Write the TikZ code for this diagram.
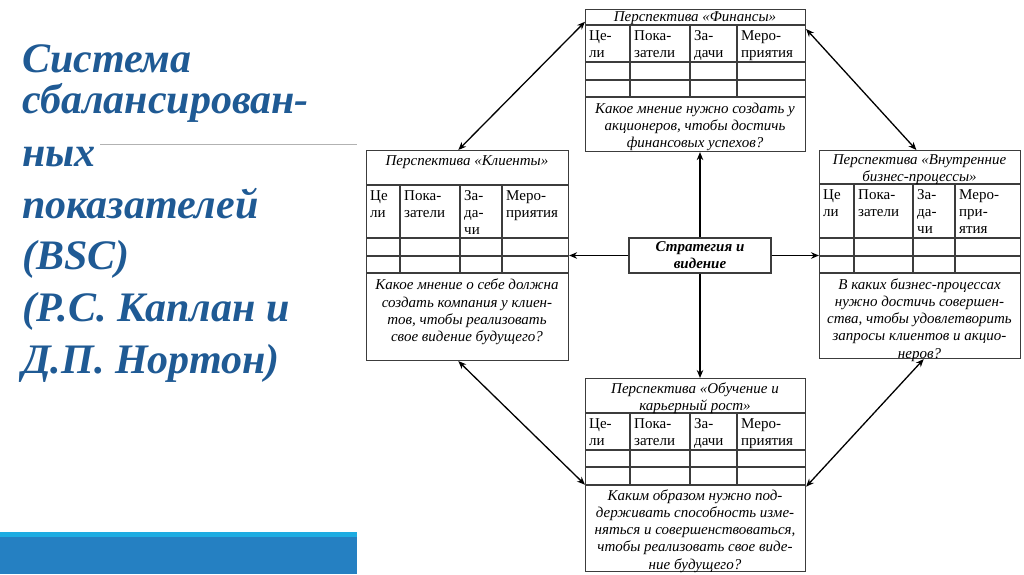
\documentclass[tikz,border=0pt]{standalone}
\usepackage{fontspec}
\setmainfont{Liberation Serif}
\usetikzlibrary{arrows.meta, positioning}
\definecolor{titleblue}{RGB}{31,90,148}
\definecolor{barlight}{RGB}{29,172,226}
\definecolor{bardark}{RGB}{37,128,194}
\definecolor{gridgray}{RGB}{60,60,60}
\tikzset{
  pbox/.style={draw=gridgray, line width=1.1pt, anchor=north west, inner sep=0pt},
  gridline/.style={draw=gridgray, line width=1.1pt},
  ptitle/.style={font=\fontsize{15}{17}\selectfont\itshape, align=center, inner sep=0pt},
  phead/.style={font=\fontsize{15}{17}\selectfont, align=left, anchor=north west, inner sep=0pt},
  pquest/.style={font=\fontsize{15}{17.2}\selectfont\itshape, align=center, inner sep=0pt},
  centerbox/.style={draw=gridgray, line width=1.1pt, minimum width=142pt, minimum height=35pt,
      inner sep=0pt, align=center, font=\fontsize{15}{17}\selectfont\bfseries\itshape},
  linkarrow/.style={{Stealth[length=8pt,width=6.5pt]}-{Stealth[length=8pt,width=6.5pt]}, line width=1.3pt},
  myarrow/.style={-{Stealth[length=8pt,width=6.5pt]}, line width=1.3pt},
  bsctitle/.style={font=\fontsize{42}{50}\selectfont\bfseries\itshape, text=titleblue,
      anchor=base west, inner sep=0pt},
}

\begin{document}
\begin{tikzpicture}[x=1pt, y=-1pt]
  \useasboundingbox (0,0) rectangle (1024,574);

  % === left title ===
  \node[bsctitle] (t1) at (22,72) {Система};
  \node[bsctitle] (t2) at (22,113) {сбалансирован-};
  \node[bsctitle] (t3) at (22,166) {ных};
  \node[bsctitle] (t4) at (22,218) {показателей};
  \node[bsctitle] (t5) at (22,269) {(BSC)};
  \node[bsctitle] (t6) at (22,321) {(Р.С. Каплан и};
  \node[bsctitle] (t7) at (22,373) {Д.П. Нортон)};
  \draw[black!30, line width=0.8pt] (100,144) -- (357,144);
  \fill[barlight] (0,532) rectangle (357,537);
  \fill[bardark] (0,537) rectangle (357,574);

  % === Perspective: finance (top) ===
  \node[pbox, minimum width=220pt, minimum height=142pt] (fin) at (585,9) {};
  \foreach \y in {25,62,80,97} \draw[gridline] (585,\y) -- (805,\y);
  \foreach \x in {630,690,737} \draw[gridline] (\x,25) -- (\x,97);
  \node[ptitle] (fintitle) at (695,18) {Перспектива «Финансы»};
  \node[phead] (fin1) at (589,30) {Це-\\ли};
  \node[phead] (fin2) at (634,30) {Пока-\\затели};
  \node[phead] (fin3) at (694,30) {За-\\дачи};
  \node[phead] (fin4) at (741,30) {Меро-\\приятия};
  \node[pquest] (finq) at (695,127) {Какое мнение нужно создать у\\акционеров, чтобы достичь\\финансовых успехов?};

  % === Perspective: clients (left) ===
  \node[pbox, minimum width=202pt, minimum height=210pt] (cli) at (366,150) {};
  \foreach \y in {185,238,256,273} \draw[gridline] (366,\y) -- (568,\y);
  \foreach \x in {400,460,502} \draw[gridline] (\x,185) -- (\x,273);
  \node[ptitle] (clititle) at (467,162) {Перспектива «Клиенты»};
  \node[phead] (cli1) at (370,190) {Це\\ли};
  \node[phead] (cli2) at (404,190) {Пока-\\затели};
  \node[phead] (cli3) at (464,190) {За-\\да-\\чи};
  \node[phead] (cli4) at (506,190) {Меро-\\приятия};
  \node[pquest] (cliq) at (467,312) {Какое мнение о себе должна\\создать компания у клиен-\\тов, чтобы реализовать\\свое видение будущего?};

  % === Perspective: internal business processes (right) ===
  \node[pbox, minimum width=201pt, minimum height=208pt] (bp) at (819,150) {};
  \foreach \y in {184,238,256,273} \draw[gridline] (819,\y) -- (1020,\y);
  \foreach \x in {854,913,955} \draw[gridline] (\x,184) -- (\x,273);
  \node[ptitle] (bptitle) at (919.5,170) {Перспектива «Внутренние\\бизнес-процессы»};
  \node[phead] (bp1) at (823,189) {Це\\ли};
  \node[phead] (bp2) at (858,189) {Пока-\\затели};
  \node[phead] (bp3) at (917,189) {За-\\да-\\чи};
  \node[phead] (bp4) at (959,189) {Меро-\\при-\\ятия};
  \node[pquest] (bpq) at (919.5,320) {В каких бизнес-процессах\\нужно достичь совершен-\\ства, чтобы удовлетворить\\запросы клиентов и акцио-\\неров?};

  % === Perspective: learning and growth (bottom) ===
  \node[pbox, minimum width=220pt, minimum height=193pt] (edu) at (585,378) {};
  \foreach \y in {413,450,467,485} \draw[gridline] (585,\y) -- (805,\y);
  \foreach \x in {630,690,737} \draw[gridline] (\x,413) -- (\x,485);
  \node[ptitle] (edutitle) at (695,398) {Перспектива «Обучение и\\карьерный рост»};
  \node[phead] (edu1) at (589,418) {Це-\\ли};
  \node[phead] (edu2) at (634,418) {Пока-\\затели};
  \node[phead] (edu3) at (694,418) {За-\\дачи};
  \node[phead] (edu4) at (741,418) {Меро-\\приятия};
  \node[pquest] (eduq) at (695,531) {Каким образом нужно под-\\держивать способность изме-\\няться и совершенствоваться,\\чтобы реализовать свое виде-\\ние будущего?};

  % === centre ===
  \node[centerbox] (strat) at (700,255.5) {Стратегия и\\видение};

  % arrows from the centre
  \draw[myarrow] (strat.north) -- (strat.north |- fin.south);
  \draw[myarrow] (strat.south) -- (strat.south |- edu.north);
  \draw[myarrow] (strat.west) -- (strat.west -| cli.east);
  \draw[myarrow] (strat.east) -- (strat.east -| bp.west);

  % diagonal links
  \draw[linkarrow] (fin.152) -- (cli.95);
  \draw[linkarrow] (fin.25.5) -- (bp.92);
  \draw[linkarrow] (cli.265) -- (edu.185.5);
  \draw[linkarrow] (bp.272) -- (edu.354.6);
\end{tikzpicture}
\end{document}
